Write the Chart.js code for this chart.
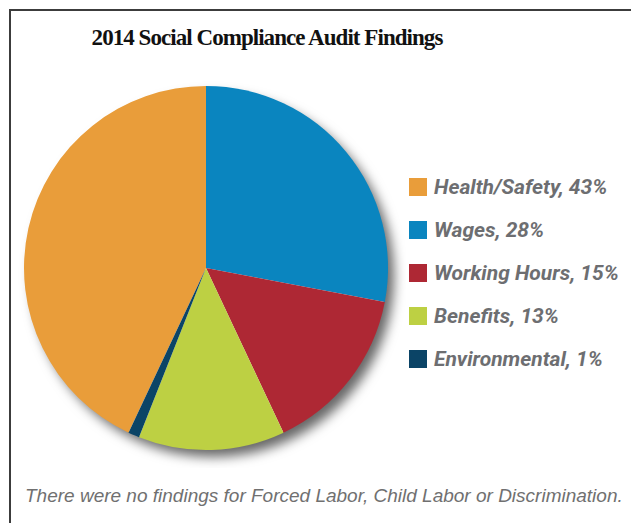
<!DOCTYPE html>
<html>
<head>
<meta charset="utf-8">
<script src="https://cdn.jsdelivr.net/npm/chart.js@4/dist/chart.umd.min.js"></script>
<style>
  html, body { margin: 0; padding: 0; background: #fff; width: 631px; height: 523px; overflow: hidden; }
  #frame { position: absolute; left: 9px; top: 9px; width: 700px; height: 600px; border: 2px solid #3c3c3c; }
  #title { position: absolute; left: 0; width: 534px; top: 25px; text-align: center;
    font-family: "Liberation Serif", serif; font-weight: bold; font-size: 23px; letter-spacing: -0.95px; color: #111; }
  #pieWrap { position: absolute; left: 6px; top: 68px; width: 400px; height: 400px; }
  #legend { position: absolute; left: 409px; top: 176px; }
  .item { height: 43px; display: flex; align-items: flex-start; }
  .box { width: 18px; height: 18px; margin-top: 2px; }
  .lbl { margin-left: 7px; font-family: Roboto, sans-serif; font-style: italic; font-weight: 700;
    font-size: 21px; line-height: 22px; letter-spacing: 0px; color: #6d6e71; }
  #note { position: absolute; left: 25px; top: 485px; font-family: "Liberation Sans", Arial, sans-serif;
    font-style: italic; font-size: 19px; color: #707070; white-space: nowrap; }
</style>
</head>
<body>
<div id="frame"></div>
<div id="title">2014 Social Compliance Audit Findings</div>
<div id="pieWrap"><canvas id="pie"></canvas></div>
<div id="legend"></div>
<div id="note">There were no findings for Forced Labor, Child Labor or Discrimination.</div>
<script>
// ---------- DATA ----------
const categories = ["Health/Safety", "Wages", "Working Hours", "Benefits", "Environmental"];
const shares = [43, 28, 15, 13, 1];
const colors = ["#E99D3A", "#0A85BF", "#AE2834", "#BDD043", "#0B4466"];

// health/safety ends at 12 o'clock, the rest follow clockwise
const total = shares.reduce((a, b) => a + b, 0);
const startAngle = -shares[0] / total * 360;

// ---------- SHADOW UNDER PIE ----------
const pieShadow = {
  id: "pieShadow",
  beforeDatasetsDraw(chart) {
    const arc = chart.getDatasetMeta(0).data[0];
    if (!arc) return;
    const ctx = chart.ctx;
    ctx.save();
    ctx.shadowColor = "rgba(0,0,0,0.6)";
    ctx.shadowBlur = 12;
    ctx.shadowOffsetX = 7;
    ctx.shadowOffsetY = 8;
    ctx.fillStyle = "#fff";
    ctx.beginPath();
    ctx.arc(arc.x, arc.y, arc.outerRadius - 1, 0, Math.PI * 2);
    ctx.fill();
    ctx.restore();
  }
};

const chart = new Chart(document.getElementById("pie"), {
  type: "pie",
  data: {
    labels: categories,
    datasets: [{
      data: shares,
      backgroundColor: colors,
      borderWidth: 0
    }]
  },
  options: {
    responsive: true,
    maintainAspectRatio: false,
    animation: false,
    rotation: startAngle,
    layout: { padding: 18 },
    plugins: {
      legend: { display: false },
      tooltip: { enabled: false }
    }
  },
  plugins: [pieShadow]
});

// ---------- LEGEND ----------
const legend = document.getElementById("legend");
categories.forEach((c, i) => {
  const row = document.createElement("div");
  row.className = "item";
  row.innerHTML = `<div class="box" style="background:${colors[i]}"></div><div class="lbl">${c}, ${shares[i]}%</div>`;
  legend.appendChild(row);
});
</script>
</body>
</html>
